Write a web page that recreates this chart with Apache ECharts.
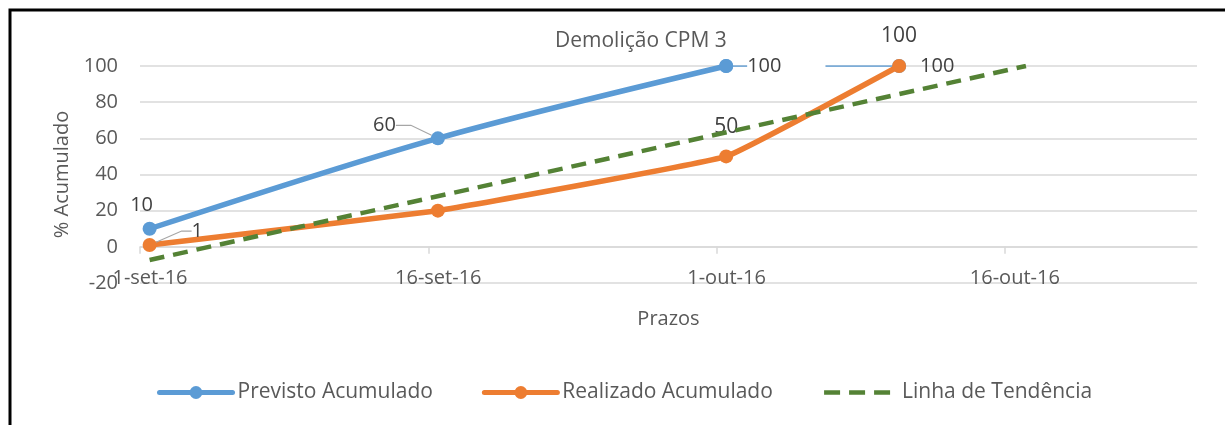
<!DOCTYPE html>
<html>
<head>
<meta charset="utf-8">
<script src="https://cdn.jsdelivr.net/npm/echarts@6/dist/echarts.min.js"></script>
<style>
html,body{margin:0;padding:0;background:#fff;}
#chart{width:1225px;height:425px;}
</style>
</head>
<body>
<div id="chart"></div>
<script>
// ---- data ----
const dates = ['2016-09-01', '2016-09-16', '2016-10-01', '2016-10-10'];
const previsto = [10, 60, 100, 100];
const realizado = [1, 20, 50, 100];
// trend line end points (days after 1-set-16, value)
const trendDays = [0.5, 46.1];
const trendValues = [-7.3, 100];
const xTickDays = [0, 15, 30, 45];
const xTickLabels = ['1-set-16', '16-set-16', '1-out-16', '16-out-16'];
const yMin = -20, yMax = 100, yStep = 20;
const xMaxDays = 55;

const base = Date.parse('2016-09-01T00:00:00Z');
function dayOf(d) { return (Date.parse(d + 'T00:00:00Z') - base) / 86400000 + 0.5; }
const xs = dates.map(dayOf);

const FONT = 'Open Sans';
const TXT = '#595959';
const LBL = '#404040';
const BLUE = '#5B9BD5', ORANGE = '#ED7D31', GREEN = '#548235';

const chart = echarts.init(document.getElementById('chart'), null, {renderer: 'canvas'});

const blueMain = previsto.slice(0, 3).map((v, i) => {
  const item = {value: [xs[i], v]};
  if (i === 0) { item.label = {show: true, position: 'top', distance: 6}; item.labelLine = {show: false}; }
  if (i === 1) item.label = {show: true, position: 'left', distance: 5};
  return item;
});
const blueThin = [2, 3].map((i, k) => ({
  value: [xs[i], previsto[i]],
  labelLine: {show: false},
  label: k === 0
    ? {show: true, position: 'right', distance: 14, backgroundColor: '#fff', padding: [2, 44, 2, 0]}
    : {show: true, position: 'right', distance: 14}
}));
const orangeData = realizado.map((v, i) => {
  const item = {value: [xs[i], v]};
  if (i === 0) item.label = {show: true, position: 'right', distance: 5};
  if (i === 2 || i === 3) {
    item.label = {show: true, position: 'top', distance: 12, fontSize: 21};
    item.labelLine = {show: false};
  }
  return item;
});
const trendData = trendDays.map((d, i) => [d, trendValues[i]]);

const option = {
  backgroundColor: '#fff',
  animation: false,
  textStyle: {fontFamily: FONT},
  title: {
    text: 'Demolição CPM 3',
    left: 550, top: 26,
    textStyle: {fontFamily: FONT, fontSize: 21, fontWeight: 'normal', color: TXT}
  },
  legend: {
    data: [
      {name: 'Previsto Acumulado'},
      {name: 'Realizado Acumulado'},
      {name: 'Linha de Tendência', itemStyle: {color: 'rgba(0,0,0,0)', borderWidth: 0, opacity: 0},
       lineStyle: {type: [16, 9], width: 4.5, cap: 'butt'}}
    ],
    left: 152, top: 377,
    itemWidth: 73, itemHeight: 16, itemGap: 49,
    lineStyle: {width: 5, cap: 'round'},
    textStyle: {fontFamily: FONT, fontSize: 21, color: TXT}
  },
  grid: {left: 140, right: 28, top: 66, bottom: 142, containLabel: false},
  xAxis: {
    type: 'value',
    min: 0, max: xMaxDays, interval: 15,
    name: 'Prazos', nameLocation: 'middle', nameGap: 26,
    nameTextStyle: {fontFamily: FONT, fontSize: 20, color: TXT},
    axisLine: {show: true, onZero: true, lineStyle: {color: '#d9d9d9', width: 1.5}},
    axisTick: {show: true, length: 7, lineStyle: {color: '#d9d9d9', width: 1.5}, customValues: xTickDays},
    axisLabel: {
      customValues: xTickDays,
      formatter: v => { const k = xTickDays.indexOf(v); return k >= 0 ? xTickLabels[k] : ''; },
      fontFamily: FONT, fontSize: 20, color: TXT, margin: -15,
      padding: [0, 0, 0, 20]
    },
    splitLine: {show: false}
  },
  yAxis: {
    type: 'value',
    min: yMin, max: yMax, interval: yStep,
    name: '% Acumulado', nameLocation: 'middle', nameGap: 68, nameRotate: 90,
    nameTextStyle: {fontFamily: FONT, fontSize: 20, color: TXT},
    axisLine: {show: false}, axisTick: {show: false},
    axisLabel: {fontFamily: FONT, fontSize: 20, color: TXT, margin: 22},
    splitLine: {lineStyle: {color: '#d9d9d9', width: 1.5}}
  },
  series: [
    {
      name: 'Previsto Acumulado', type: 'line', data: blueMain, smooth: 0.3,
      symbol: 'circle', symbolSize: 14,
      lineStyle: {color: BLUE, width: 5.5, cap: 'round'}, itemStyle: {color: BLUE},
      label: {show: false, fontFamily: FONT, fontSize: 20, color: LBL},
      labelLine: {show: true, length2: 15, lineStyle: {color: '#a6a6a6', width: 1.2}},
      labelLayout: p => p.dataIndex === 1 ? {dx: -30, dy: -13} : (p.dataIndex === 0 ? {dx: -8, dy: 0} : null),
      z: 3
    },
    {
      name: 'Previsto Acumulado', type: 'line', data: blueThin,
      symbol: 'circle', symbolSize: 14,
      lineStyle: {color: BLUE, width: 1.5}, itemStyle: {color: BLUE},
      label: {show: false, fontFamily: FONT, fontSize: 20, color: LBL},
      z: 3
    },
    {
      name: 'Realizado Acumulado', type: 'line', data: orangeData, smooth: 0.08,
      symbol: 'circle', symbolSize: 14,
      lineStyle: {color: ORANGE, width: 5.5, cap: 'round'}, itemStyle: {color: ORANGE},
      label: {show: false, fontFamily: FONT, fontSize: 20, color: LBL},
      labelLine: {show: true, length2: 10, lineStyle: {color: '#a6a6a6', width: 1.2}},
      labelLayout: p => p.dataIndex === 0 ? {dx: 30, dy: -14} : null,
      z: 4
    },
    {
      name: 'Linha de Tendência', type: 'line', data: trendData,
      symbol: 'none', showSymbol: false,
      lineStyle: {color: GREEN, width: 4.5, type: [15, 9]}, itemStyle: {color: GREEN},
      z: 5
    }
  ],
  graphic: [{
    type: 'rect', silent: true, z: 100,
    shape: {x: 10, y: 10, width: 1400, height: 600},
    style: {fill: 'none', stroke: '#000', lineWidth: 3}
  }]
};
chart.setOption(option);
</script>
</body>
</html>
